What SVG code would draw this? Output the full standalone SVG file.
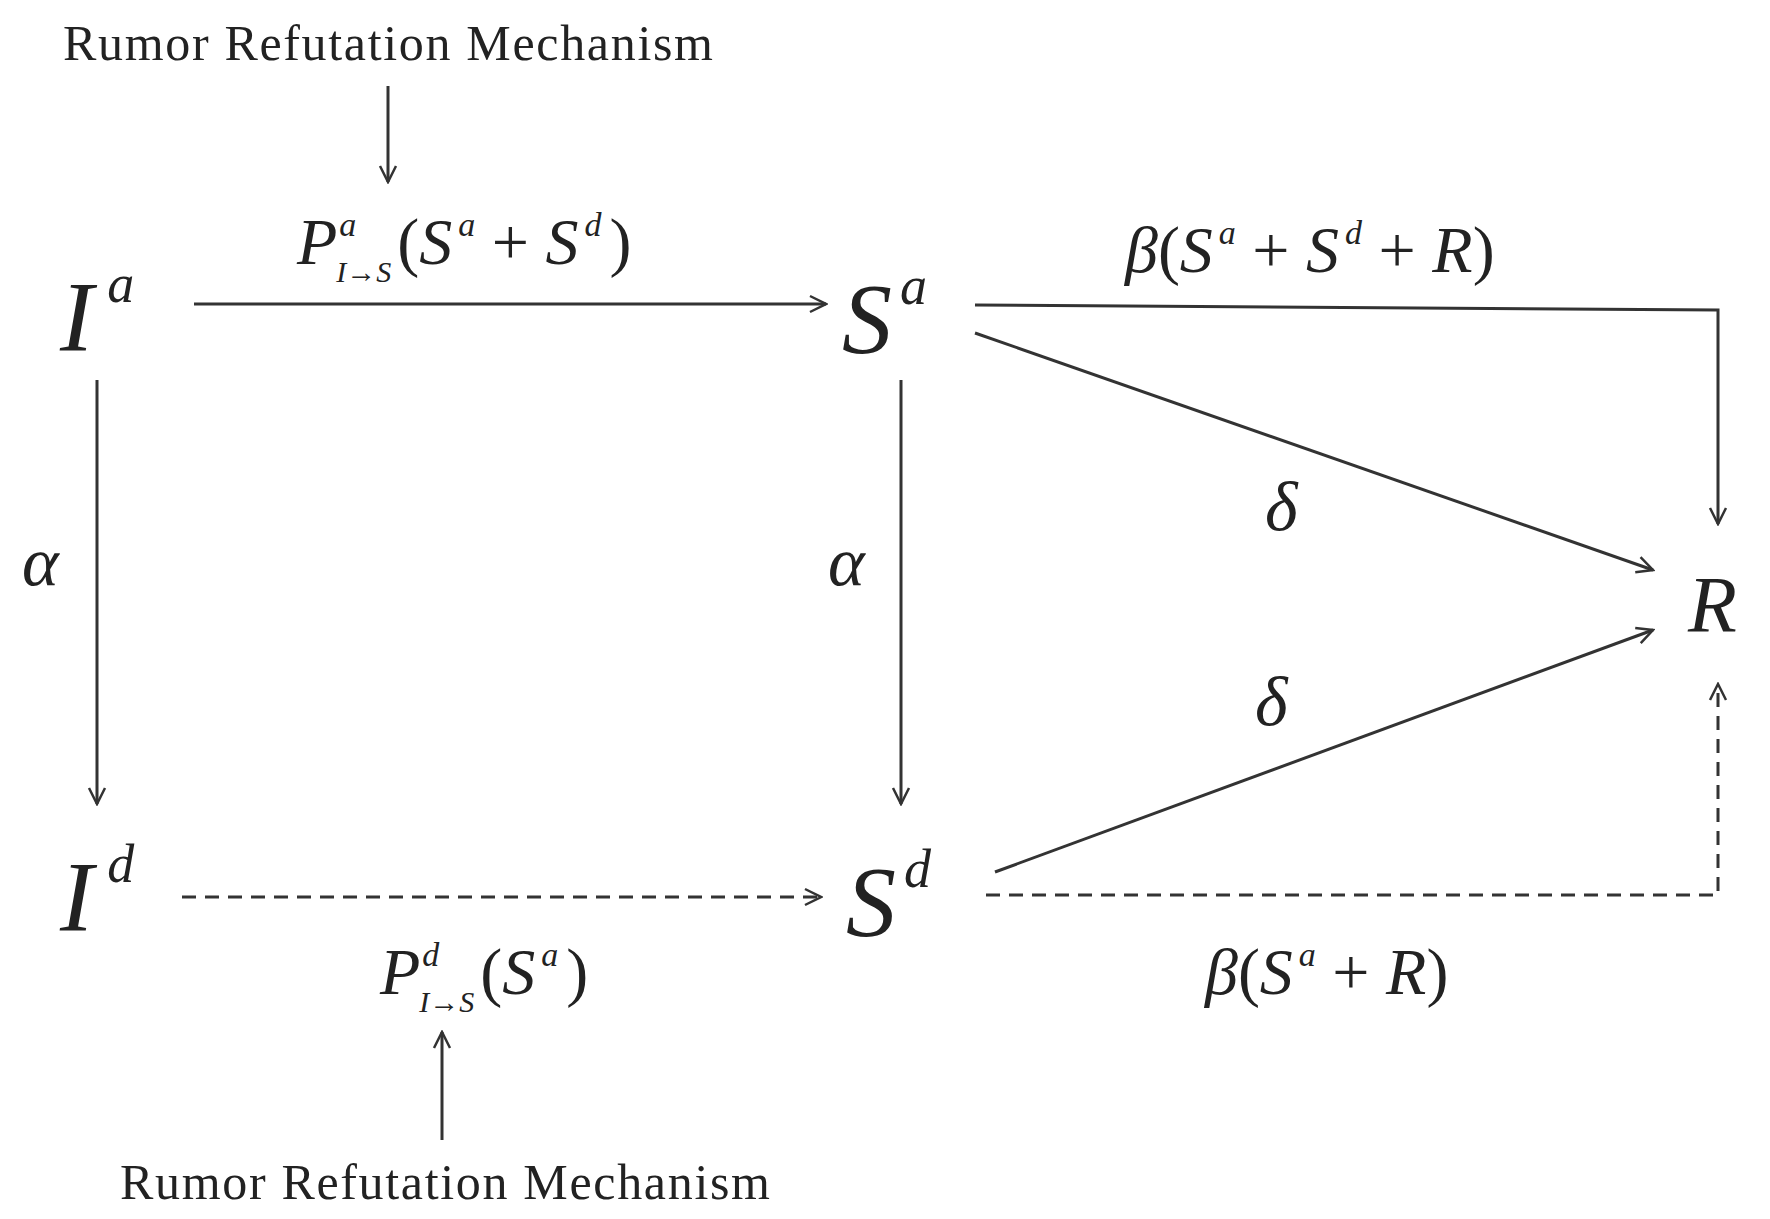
<svg xmlns="http://www.w3.org/2000/svg" width="1770" height="1219" viewBox="0 0 1770 1219">
<style>
.t{font-family:"Liberation Serif",serif;fill:#222}
.i{font-style:italic}
.c{stroke:#333;stroke-width:3;fill:none}
.d{stroke-dasharray:14 9}
</style>
<defs>
<marker id="a" viewBox="0 0 20 20" refX="18" refY="10" markerWidth="20" markerHeight="20" markerUnits="userSpaceOnUse" orient="auto">
<polyline points="2,2 18,10 2,18" fill="none" stroke="#333" stroke-width="2.5"/>
</marker>
</defs>
<rect width="1770" height="1219" fill="#fff"/>
<g id="connectors">
<line class="c" x1="388" y1="86" x2="388" y2="182" marker-end="url(#a)"/>
<line class="c" x1="194" y1="304" x2="826" y2="304" marker-end="url(#a)"/>
<polyline class="c" points="975,305 1718,310 1718,524" marker-end="url(#a)"/>
<line class="c" x1="975" y1="333" x2="1653" y2="570" marker-end="url(#a)"/>
<line class="c" x1="97" y1="380" x2="97" y2="804" marker-end="url(#a)"/>
<line class="c" x1="901" y1="380" x2="901" y2="804" marker-end="url(#a)"/>
<line class="c d" x1="182" y1="897" x2="821" y2="897" marker-end="url(#a)"/>
<line class="c" x1="995" y1="872" x2="1653" y2="630" marker-end="url(#a)"/>
<polyline class="c d" points="986,895 1718,895 1718,684" marker-end="url(#a)"/>
<line class="c" x1="442" y1="1140" x2="442" y2="1032" marker-end="url(#a)"/>
</g>
<g id="Ia"><text class="t i" x="60" y="350" font-size="100">I<tspan font-size="54" dy="-48" dx="14">a</tspan></text></g>
<g id="Sa"><text class="t i" x="842" y="352" font-size="100">S<tspan font-size="54" dy="-48" dx="8">a</tspan></text></g>
<g id="R"><text class="t i" x="1688" y="632" font-size="80">R</text></g>
<g id="Id"><text class="t i" x="60" y="930" font-size="100">I<tspan font-size="54" dy="-48" dx="14">d</tspan></text></g>
<g id="Sd"><text class="t i" x="846" y="935" font-size="100">S<tspan font-size="54" dy="-48" dx="8">d</tspan></text></g>
<g id="labels">
<text class="t" x="388" y="60" font-size="50" text-anchor="middle" textLength="650">Rumor Refutation Mechanism</text>
<text class="t" x="445" y="1199" font-size="50" text-anchor="middle" textLength="650">Rumor Refutation Mechanism</text>
<text class="t" x="297" y="264" font-size="66"><tspan class="i">P</tspan><tspan class="i" font-size="34" dy="-28" dx="2">a</tspan><tspan class="i" font-size="30" dy="46" dx="-20">I→S</tspan><tspan dy="-18" dx="6">(</tspan><tspan class="i">S</tspan><tspan class="i" font-size="34" dy="-28" dx="6">a</tspan><tspan dy="28"> + </tspan><tspan class="i">S</tspan><tspan class="i" font-size="34" dy="-28" dx="6">d</tspan><tspan dy="28" dx="8">)</tspan></text>
<text class="t" x="1125" y="272" font-size="66"><tspan class="i">β</tspan>(<tspan class="i">S</tspan><tspan class="i" font-size="34" dy="-28" dx="6">a</tspan><tspan dy="28"> + </tspan><tspan class="i">S</tspan><tspan class="i" font-size="34" dy="-28" dx="6">d</tspan><tspan dy="28"> + </tspan><tspan class="i">R</tspan>)</text>
<text class="t i" x="1265" y="530" font-size="70">δ</text>
<text class="t i" x="1255" y="725" font-size="70">δ</text>
<text class="t i" x="22" y="585" font-size="70">α</text>
<text class="t i" x="828" y="585" font-size="70">α</text>
<text class="t" x="380" y="994" font-size="66"><tspan class="i">P</tspan><tspan class="i" font-size="34" dy="-28" dx="2">d</tspan><tspan class="i" font-size="30" dy="46" dx="-20">I→S</tspan><tspan dy="-18" dx="6">(</tspan><tspan class="i">S</tspan><tspan class="i" font-size="34" dy="-28" dx="6">a</tspan><tspan dy="28" dx="8">)</tspan></text>
<text class="t" x="1205" y="994" font-size="66"><tspan class="i">β</tspan>(<tspan class="i">S</tspan><tspan class="i" font-size="34" dy="-28" dx="6">a</tspan><tspan dy="28"> + </tspan><tspan class="i">R</tspan>)</text>
</g>
</svg>
